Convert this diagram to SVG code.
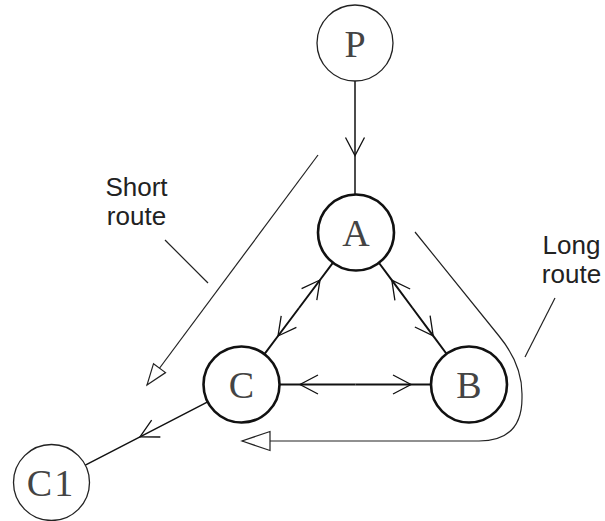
<svg xmlns="http://www.w3.org/2000/svg" width="605" height="521" viewBox="0 0 605 521">
<style>
  .thin { fill: #fff; stroke: #222; stroke-width: 1.3; }
  .thick { fill: #fff; stroke: #111; stroke-width: 2.6; }
  .lbl { font-family: "Liberation Serif", "Times New Roman", serif; font-size: 38px; fill: #444; text-anchor: middle; }
  .note { font-family: "Liberation Sans", Arial, sans-serif; font-size: 26px; fill: #222; text-anchor: middle; }
  .edge { fill: none; stroke: #111; }
  .route { fill: none; stroke: #222; stroke-width: 1.2; }
</style>
<defs>
  <marker id="v" viewBox="-20 -12 24 24" refX="0" refY="0" markerWidth="24" markerHeight="24" orient="auto" markerUnits="userSpaceOnUse">
    <path d="M-18,-9.5 L0,0 L-18,9.5" fill="none" stroke="#111" stroke-width="1.3"/>
  </marker>
  <marker id="triS" viewBox="-23 -10 25 20" refX="0" refY="0" markerWidth="25" markerHeight="20" orient="auto" markerUnits="userSpaceOnUse">
    <path d="M0,0 L-21,-7.5 L-21,7.5 Z" fill="#fff" stroke="#222" stroke-width="1.2"/>
  </marker>
  <marker id="triL" viewBox="-30 -12 32 24" refX="0" refY="0" markerWidth="32" markerHeight="24" orient="auto" markerUnits="userSpaceOnUse">
    <path d="M0,0 L-28,-9.5 L-28,9.5 Z" fill="#fff" stroke="#222" stroke-width="1.2"/>
  </marker>
</defs>

<g id="connectors">
  <!-- P -> A -->
  <path class="edge" stroke-width="1.5" d="M355,81 L355,155.5 L355,194" marker-mid="url(#v)"/>
  <!-- A <-> C -->
  <path class="edge" stroke-width="2" d="M299,308 L320,280 L333.2,262.4" marker-mid="url(#v)"/>
  <path class="edge" stroke-width="2" d="M299,308 L278,336 L264.8,353.6" marker-mid="url(#v)"/>
  <!-- A <-> B -->
  <path class="edge" stroke-width="2" d="M412.5,308 L391.8,280.2 L378.7,262.5" marker-mid="url(#v)"/>
  <path class="edge" stroke-width="2" d="M412.5,308 L433.2,335.8 L446.3,353.5" marker-mid="url(#v)"/>
  <!-- C <-> B -->
  <path class="edge" stroke-width="2.2" d="M355.5,384.5 L300,384.5 L280,384.5" marker-mid="url(#v)"/>
  <path class="edge" stroke-width="2.2" d="M355.5,384.5 L411,384.5 L431,384.5" marker-mid="url(#v)"/>
  <!-- C -> C1 -->
  <path class="edge" stroke-width="1.5" d="M207.7,401.9 L140,436.8 L85.3,465.1" marker-mid="url(#v)"/>
  <!-- Short route -->
  <path class="route" d="M318,155 L147,385" marker-end="url(#triS)"/>
  <path class="route" d="M165,240 L208,283"/>
  <!-- Long route -->
  <path class="route" d="M415,232 L499,336 Q522,364 522,394 L522,398 Q522,441 479,441 L242,441" marker-end="url(#triL)"/>
  <path class="route" d="M555,298 L525,357"/>
</g>

<g id="node-P">
  <circle class="thin" cx="355" cy="43" r="38"/>
  <text class="lbl" x="355" y="56.5">P</text>
</g>
<g id="node-A">
  <circle class="thick" cx="356" cy="232.5" r="38"/>
  <text class="lbl" x="356" y="246">A</text>
</g>
<g id="node-B">
  <circle class="thick" cx="469" cy="384.5" r="38"/>
  <text class="lbl" x="469" y="398">B</text>
</g>
<g id="node-C">
  <circle class="thick" cx="241.5" cy="384.5" r="38"/>
  <text class="lbl" x="241.5" y="398">C</text>
</g>
<g id="node-C1">
  <circle class="thin" cx="51.5" cy="482.5" r="38"/>
  <text class="lbl" x="51" y="496" letter-spacing="2">C1</text>
</g>

<g id="label-short">
  <text class="note" x="136.5" y="196">Short</text>
  <text class="note" x="136.5" y="225">route</text>
</g>
<g id="label-long">
  <text class="note" x="571.5" y="254">Long</text>
  <text class="note" x="571.5" y="283">route</text>
</g>
</svg>
